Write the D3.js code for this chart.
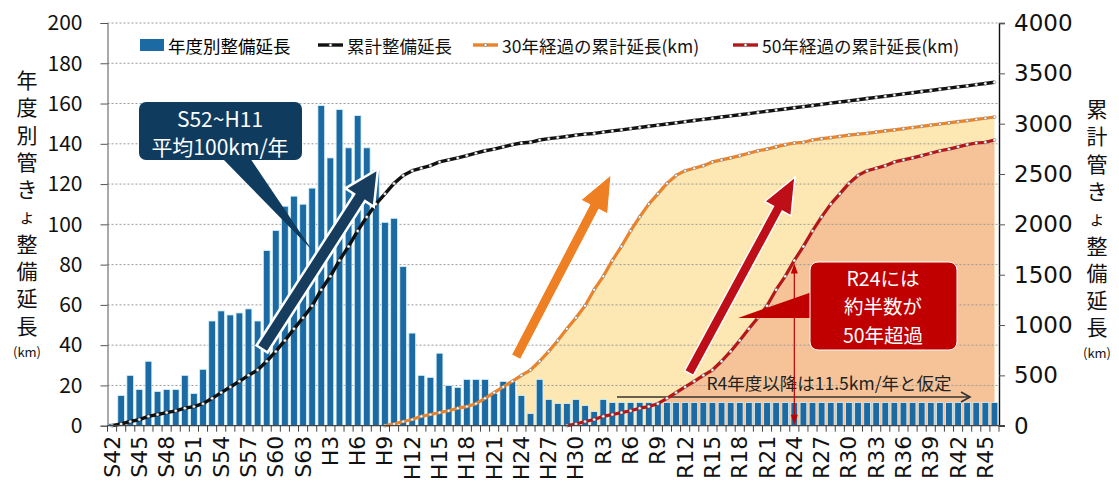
<!DOCTYPE html>
<html>
<head>
<meta charset="utf-8">
<script src="https://cdn.jsdelivr.net/npm/d3@7"></script>
<style>
  body { margin: 0; background: #fff; }
  svg text { font-family: "Noto Sans CJK JP", "Noto Sans", sans-serif; }
</style>
</head>
<body>
<div id="chart"></div>
<script>
// fiscal years S42 .. R46
var years = [
  "S42","S43","S44","S45","S46","S47","S48","S49","S50","S51","S52","S53","S54","S55","S56","S57","S58","S59","S60","S61","S62","S63",
  "H1","H2","H3","H4","H5","H6","H7","H8","H9","H10","H11","H12","H13","H14","H15","H16","H17","H18","H19","H20","H21","H22","H23","H24","H25","H26","H27","H28","H29","H30",
  "R1","R2","R3","R4","R5","R6","R7","R8","R9","R10","R11","R12","R13","R14","R15","R16","R17","R18","R19","R20","R21","R22","R23","R24","R25","R26","R27","R28","R29","R30",
  "R31","R32","R33","R34","R35","R36","R37","R38","R39","R40","R41","R42","R43","R44","R45","R46"
];

// 年度別整備延長 (km)
var annualLength = [
  1,15,25,18,32,17,18,18,25,16,28,52,57,55,56,58,52,87,97,109,114,110,
  118,159,133,157,138,154,138,127,101,103,79,46,25,24,36,20,19,23,23,23,16,22,22,15,6,23,13,11,11,13,
  10,7,13,11.5,11.5,11.5,11.5,11.5,11.5,11.5,11.5,11.5,11.5,11.5,11.5,11.5,11.5,11.5,11.5,11.5,11.5,11.5,11.5,11.5,11.5,11.5,11.5,11.5,11.5,11.5,
  11.5,11.5,11.5,11.5,11.5,11.5,11.5,11.5,11.5,11.5,11.5,11.5,11.5,11.5,11.5,11.5
];

// 累計整備延長 (km), from S42
var totalLength = [
  1,17,42,61,93,111,130,148,174,190,219,272,329,385,441,500,553,640,738,847,
  962,1073,1191,1351,1484,1642,1781,1935,2074,2201,2303,2407,2486,2533,2558,2583,2620,2640,2660,2683,
  2707,2731,2747,2770,2792,2808,2815,2838,2851,2862,2873,2886,2896,2903,2916,2928,2939,2951,2962,2974,
  2985,2997,3008,3020,3031,3043,3054,3066,3077,3089,3100,3112,3123,3135,3146,3158,3169,3181,3192,3204,
  3215,3227,3238,3250,3261,3273,3284,3296,3307,3319,3330,3342,3353,3365,3376,3388,3399,3411
];

// 30年経過の累計延長 (km), from H9
var start30 = "H9";
var over30 = [
  1,17,42,61,93,111,130,148,174,190,219,272,329,385,441,500,553,640,738,847,
  962,1073,1191,1351,1484,1642,1781,1935,2074,2201,2303,2407,2486,2533,2558,2583,2620,2640,2660,2683,
  2707,2731,2747,2770,2792,2808,2815,2838,2851,2862,2873,2886,2896,2903,2916,2928,2939,2951,2962,2974,
  2985,2997,3008,3020,3031,3043,3054,3066
];

// 50年経過の累計延長 (km), from H29
var start50 = "H29";
var over50 = [
  1,17,42,61,93,111,130,148,174,190,219,272,329,385,441,500,553,640,738,847,
  962,1073,1191,1351,1484,1642,1781,1935,2074,2201,2303,2407,2486,2533,2558,2583,2620,2640,2660,2683,
  2707,2731,2747,2770,2792,2808,2815,2838
];

var leftTicks = [0,20,40,60,80,100,120,140,160,180,200];
var rightTicks = [0,500,1000,1500,2000,2500,3000,3500,4000];

var width = 1119, height = 486;
var margin = { top: 23, right: 120, bottom: 60.3, left: 107.5 };
var plotW = width - margin.left - margin.right;
var plotH = height - margin.top - margin.bottom;

var svg = d3.select("#chart").append("svg")
  .attr("width", width)
  .attr("height", height);

var g = svg.append("g")
  .attr("transform", "translate(" + margin.left + "," + margin.top + ")");

var x = d3.scaleBand().domain(years).range([0, plotW]).padding(0);
var yL = d3.scaleLinear().domain([0, 200]).range([plotH, 0]);
var yR = d3.scaleLinear().domain([0, 4000]).range([plotH, 0]);
function cx(year) { return x(year) + x.bandwidth() / 2; }

// series as {year, value}
var i30 = years.indexOf(start30), i50 = years.indexOf(start50);
var totalPts = totalLength.map(function(v, i) { return { year: years[i], value: v }; });
var pts30 = over30.map(function(v, i) { return { year: years[i30 + i], value: v }; });
var pts50 = over50.map(function(v, i) { return { year: years[i50 + i], value: v }; });

// filled areas under the 30 / 50 year lines
var areaGen = d3.area().x(function(d) { return cx(d.year); }).y0(plotH).y1(function(d) { return yR(d.value); });
var defs = svg.append("defs");
defs.append("clipPath").attr("id", "clip30").append("rect")
  .attr("x", x("H24")).attr("y", 0).attr("width", plotW).attr("height", plotH);
defs.append("clipPath").attr("id", "clip50").append("rect")
  .attr("x", x("R10")).attr("y", 0).attr("width", plotW).attr("height", plotH);

g.append("path").datum(pts30)
  .attr("d", areaGen).attr("fill", "#fde8b3").attr("clip-path", "url(#clip30)");
g.append("path").datum(pts50)
  .attr("d", areaGen).attr("fill", "#f6c398").attr("clip-path", "url(#clip50)");

// grid lines
g.selectAll(".grid").data(leftTicks.filter(function(t) { return t > 0; }))
  .enter().append("line")
  .attr("x1", 0).attr("x2", plotW)
  .attr("y1", function(d) { return yL(d); }).attr("y2", function(d) { return yL(d); })
  .attr("stroke", "#9a9a9a").attr("stroke-width", 1).attr("stroke-dasharray", "2,2");

// bars
var barW = x.bandwidth() * 0.74;
g.selectAll(".bar").data(annualLength)
  .enter().append("rect")
  .attr("x", function(d, i) { return cx(years[i]) - barW / 2; })
  .attr("y", function(d) { return yL(d); })
  .attr("width", barW)
  .attr("height", function(d) { return plotH - yL(d); })
  .attr("fill", "#1c6aa4")
  .attr("stroke", "#d6f1f7")
  .attr("stroke-width", 0.8);

// text callout: R4年度以降
g.append("text")
  .attr("x", 829 - margin.left).attr("y", 382 - margin.top)
  .attr("text-anchor", "middle").attr("dominant-baseline", "central")
  .attr("font-size", 17.5).attr("fill", "#222")
  .text("R4年度以降は11.5km/年と仮定");
g.append("line")
  .attr("x1", 617 - margin.left).attr("x2", 970 - margin.left)
  .attr("y1", 397 - margin.top).attr("y2", 397 - margin.top)
  .attr("stroke", "#333").attr("stroke-width", 1.6);
g.append("path")
  .attr("d", "M" + (961 - margin.left) + "," + (392 - margin.top) + " L" + (970 - margin.left) + "," + (397 - margin.top) + " L" + (961 - margin.left) + "," + (402 - margin.top))
  .attr("fill", "none").attr("stroke", "#333").attr("stroke-width", 1.6);

// lines
var lineGen = d3.line().x(function(d) { return cx(d.year); }).y(function(d) { return yR(d.value); });
function drawSeries(pts, color, w) {
  g.append("path").datum(pts)
    .attr("d", lineGen).attr("fill", "none")
    .attr("stroke", color).attr("stroke-width", w).attr("stroke-linejoin", "round");
  g.append("g").selectAll("circle").data(pts)
    .enter().append("circle")
    .attr("cx", function(d) { return cx(d.year); })
    .attr("cy", function(d) { return yR(d.value); })
    .attr("r", 1.5)
    .attr("fill", "#fff").attr("stroke", "#666").attr("stroke-width", 0.5);
}
drawSeries(pts30, "#e9832c", 3.2);
drawSeries(pts50, "#b3171c", 3.2);
drawSeries(totalPts, "#111", 3.4);

// R24 vertical arrow
var r24x = cx("R24");
var topY = yR(over50[years.indexOf("R24") - i50]) + 3;
g.append("line")
  .attr("x1", r24x).attr("x2", r24x)
  .attr("y1", topY + 2).attr("y2", plotH - 2)
  .attr("stroke", "#c00000").attr("stroke-width", 1.2);
g.append("path")
  .attr("d", "M" + (r24x - 3.5) + "," + (plotH - 11) + " L" + r24x + "," + (plotH - 1) + " L" + (r24x + 3.5) + "," + (plotH - 11) + "Z")
  .attr("fill", "#c00000");
g.append("path")
  .attr("d", "M" + (r24x - 3.5) + "," + (topY + 10) + " L" + r24x + "," + topY + " L" + (r24x + 3.5) + "," + (topY + 10) + "Z")
  .attr("fill", "#c00000");

// block arrows (annotation)
function blockArrow(x1, y1, x2, y2, shaftW, headW, headL, fill, stroke, sw) {
  var dx = x2 - x1, dy = y2 - y1, len = Math.sqrt(dx * dx + dy * dy);
  var ux = dx / len, uy = dy / len, px = -uy, py = ux;
  var bx = x2 - ux * headL, by = y2 - uy * headL;
  var p = [
    [x1 + px * shaftW / 2, y1 + py * shaftW / 2],
    [bx + px * shaftW / 2, by + py * shaftW / 2],
    [bx + px * headW / 2, by + py * headW / 2],
    [x2, y2],
    [bx - px * headW / 2, by - py * headW / 2],
    [bx - px * shaftW / 2, by - py * shaftW / 2],
    [x1 - px * shaftW / 2, y1 - py * shaftW / 2]
  ];
  svg.append("path")
    .attr("d", "M" + p.map(function(q) { return q.join(","); }).join("L") + "Z")
    .attr("fill", fill).attr("stroke", stroke).attr("stroke-width", sw).attr("stroke-linejoin", "miter");
}
blockArrow(262, 349, 378, 169, 13, 34, 34, "#163d5e", "#fff", 2.5);
blockArrow(516, 357, 611, 175, 10, 30, 36, "#ee7f23", "#fff", 1);
blockArrow(689, 373, 795, 177, 10, 30, 36, "#be0e18", "#fff", 1.5);

// navy callout
svg.append("path")
  .attr("d", "M222,158 L250,158 L312,250 Z")
  .attr("fill", "#0f3c5e");
svg.append("rect")
  .attr("x", 139).attr("y", 102).attr("width", 163).attr("height", 58).attr("rx", 7)
  .attr("fill", "#0f3c5e");
svg.append("text").attr("x", 220).attr("y", 118)
  .attr("text-anchor", "middle").attr("dominant-baseline", "central")
  .attr("font-size", 21).attr("fill", "#fff").text("S52~H11");
svg.append("text").attr("x", 220).attr("y", 146)
  .attr("text-anchor", "middle").attr("dominant-baseline", "central")
  .attr("font-size", 21).attr("fill", "#fff").text("平均100km/年");

// red callout
svg.append("path")
  .attr("d", "M812,292 L812,318 L738,318 Z")
  .attr("fill", "#c00000");
svg.append("rect")
  .attr("x", 810).attr("y", 262).attr("width", 147).attr("height", 88).attr("rx", 8)
  .attr("fill", "#c00000").attr("stroke", "#fff").attr("stroke-width", 1);
["R24には", "約半数が", "50年超過"].forEach(function(t, i) {
  svg.append("text").attr("x", 883).attr("y", 277 + i * 28.5)
    .attr("text-anchor", "middle").attr("dominant-baseline", "central")
    .attr("font-size", 19.5).attr("fill", "#fff").text(t);
});

// axes
var axisL = g.append("g").call(d3.axisLeft(yL).tickValues(leftTicks).tickSize(7).tickPadding(18));
axisL.select(".domain").attr("stroke", "#555");
axisL.selectAll(".tick line").attr("stroke", "#555");
axisL.selectAll("text").attr("font-size", 21).attr("fill", "#111");

var axisR = g.append("g").attr("transform", "translate(" + plotW + ",0)")
  .call(d3.axisRight(yR).tickValues(rightTicks).tickFormat(d3.format("d")).tickSize(6).tickPadding(9));
axisR.select(".domain").attr("stroke", "#111").attr("stroke-width", 1.4);
axisR.selectAll(".tick line").attr("stroke", "#555");
axisR.selectAll("text").attr("font-size", 23).attr("fill", "#111")
  .style("font-family", "'DejaVu Sans', sans-serif");

// x axis
g.append("line").attr("x1", 0).attr("x2", plotW + 6).attr("y1", plotH).attr("y2", plotH)
  .attr("stroke", "#444").attr("stroke-width", 1.2);
g.selectAll(".xtick").data(years.concat(["end"]))
  .enter().append("line")
  .attr("x1", function(d, i) { return i * x.bandwidth(); })
  .attr("x2", function(d, i) { return i * x.bandwidth(); })
  .attr("y1", plotH).attr("y2", plotH + 6)
  .attr("stroke", "#444").attr("stroke-width", 1);
g.selectAll(".xlabel").data(years.filter(function(d, i) { return i % 3 === 0; }))
  .enter().append("text")
  .attr("transform", function(d) { return "translate(" + cx(d) + "," + (plotH + 10) + ") rotate(-90)"; })
  .attr("text-anchor", "end").attr("dominant-baseline", "central")
  .attr("font-size", 22).attr("fill", "#111")
  .style("font-family", "'DejaVu Sans', sans-serif")
  .text(function(d) { return d; });

// axis titles (vertical)
function vTitle(cxPos, chars, y0) {
  chars.forEach(function(c, i) {
    svg.append("text").attr("x", cxPos).attr("y", y0 + i * 27.3)
      .attr("text-anchor", "middle").attr("dominant-baseline", "central")
      .attr("font-size", c === "ょ" ? 17 : 21).attr("fill", "#111").text(c);
  });
  svg.append("text").attr("x", cxPos).attr("y", y0 + chars.length * 27.3 - 1)
    .attr("text-anchor", "middle").attr("dominant-baseline", "central")
    .attr("font-size", 13).attr("fill", "#111").text("(km)");
}
vTitle(27, ["年","度","別","管","き","ょ","整","備","延","長"], 79);
vTitle(1097, ["累","計","管","き","ょ","整","備","延","長"], 108);

// legend
var lg = svg.append("g");
lg.append("rect").attr("x", 140).attr("y", 39).attr("width", 24).attr("height", 12).attr("fill", "#1c6aa4");
lg.append("text").attr("x", 168).attr("y", 45).attr("dominant-baseline", "central").attr("font-size", 17.5).text("年度別整備延長");
[[318, "#111", "累計整備延長"], [473, "#e9832c", "30年経過の累計延長(km)"], [733, "#b3171c", "50年経過の累計延長(km)"]].forEach(function(e) {
  lg.append("line").attr("x1", e[0]).attr("x2", e[0] + 25).attr("y1", 45).attr("y2", 45)
    .attr("stroke", e[1]).attr("stroke-width", 3.4);
  lg.append("circle").attr("cx", e[0] + 12.5).attr("cy", 45).attr("r", 1.5)
    .attr("fill", "#fff").attr("stroke", "#666").attr("stroke-width", 0.5);
  lg.append("text").attr("x", e[0] + 29).attr("y", 45).attr("dominant-baseline", "central")
    .attr("font-size", 17.5).attr("fill", "#111").text(e[2]);
});
</script>
</body>
</html>
